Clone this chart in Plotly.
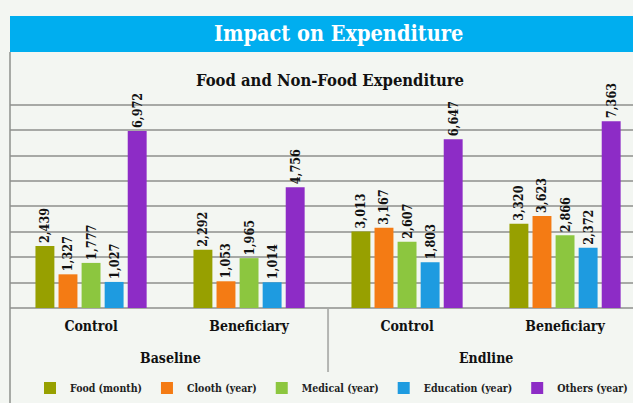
import plotly.graph_objects as go

# Groups along the x axis
groups = ["Control", "Beneficiary", "Control", "Beneficiary"]
periods = ["Baseline", "Endline"]

# Expenditure series (Tk)
series_names = ["Food (month)", "Clooth (year)", "Medical (year)", "Education (year)", "Others (year)"]
food = [2439, 2292, 3013, 3320]
cloth = [1327, 1053, 3167, 3623]
medical = [1777, 1965, 2607, 2866]
education = [1027, 1014, 1803, 2372]
others = [6972, 4756, 6647, 7363]

colors = ["#97a000", "#f47b14", "#8cc63f", "#1e9be0", "#8d2cc6"]
series_values = [food, cloth, medical, education, others]

W, H = 633, 403
FONT = "DejaVu Serif Condensed, Liberation Serif, serif"
BG = "#f3f6f2"
Y_MAX = 8040

def px_x(p):
    return p / W

def px_y(p):
    return 1 - p / H

xpos = list(range(len(groups)))

fig = go.Figure()
for name, vals, col in zip(series_names, series_values, colors):
    fig.add_trace(go.Bar(
        x=xpos, y=vals, name=name,
        marker=dict(color=col, line=dict(width=0)),
        texttemplate="%{y:,}", textposition="outside", textangle=-90,
        constraintext="none",
        textfont=dict(family=FONT, size=12.5, color="#111111", weight="bold"),
        cliponaxis=False,
    ))

fig.update_layout(
    width=W, height=H,
    margin=dict(l=0, r=0, t=0, b=0),
    paper_bgcolor=BG, plot_bgcolor=BG,
    barmode="group", bargap=0.27, bargroupgap=0.18,
    font=dict(family=FONT, color="#111111"),
    showlegend=True,
    legend=dict(
        orientation="h", x=px_x(336), xanchor="center", y=px_y(388), yanchor="middle",
        font=dict(family=FONT, size=10.5, color="#222222", weight="bold"),
        itemwidth=30,
        bgcolor="rgba(0,0,0,0)", traceorder="normal",
    ),
    xaxis=dict(
        domain=[px_x(10), 1],
        range=[-0.513, -0.513 + 623 / 158],
        tickvals=xpos, ticktext=groups,
        tickfont=dict(family=FONT, size=14, color="#111111", weight="bold"),
        ticklabelstandoff=8,
        showgrid=False, zeroline=False, showline=False, ticks="",
        fixedrange=True,
    ),
    yaxis=dict(
        domain=[px_y(308), px_y(308 - Y_MAX * 203 / 8000)],
        range=[0, Y_MAX],
        tickvals=list(range(0, 8001, 1000)),
        showticklabels=False,
        showgrid=True, gridcolor="#a7a9a6", gridwidth=2,
        zeroline=True, zerolinecolor="#a7a9a6", zerolinewidth=2,
        showline=False, fixedrange=True,
    ),
)

shapes = [
    # title banner
    dict(type="rect", xref="paper", yref="paper",
         x0=px_x(10), x1=1, y0=px_y(52), y1=px_y(16),
         fillcolor="#00aeef", line=dict(width=0), layer="below"),
    # panel left border
    dict(type="line", xref="paper", yref="paper",
         x0=px_x(10), x1=px_x(10), y0=0, y1=px_y(52),
         line=dict(color="#8e918d", width=1.5)),
    # separator between Baseline and Endline
    dict(type="line", xref="x", yref="paper",
         x0=1.5, x1=1.5, y0=px_y(309), y1=px_y(372),
         line=dict(color="#b3b5b2", width=2)),
]

annotations = [
    dict(text="Impact on Expenditure", xref="paper", yref="paper",
         x=px_x(338), y=px_y(33), xanchor="center", yanchor="middle", showarrow=False,
         font=dict(family=FONT, size=21.5, color="white", weight="bold")),
    dict(text="Food and Non-Food Expenditure", xref="paper", yref="paper",
         x=px_x(330), y=px_y(80), xanchor="center", yanchor="middle", showarrow=False,
         font=dict(family=FONT, size=16.5, color="#111111", weight="bold")),
]
for i, p in enumerate(periods):
    annotations.append(dict(
        text=p, xref="x", yref="paper", x=2 * i + 0.5, y=px_y(358),
        xanchor="center", yanchor="middle", showarrow=False,
        font=dict(family=FONT, size=14, color="#111111", weight="bold")))

fig.update_layout(shapes=shapes, annotations=annotations)

fig.write_html("out.html")
